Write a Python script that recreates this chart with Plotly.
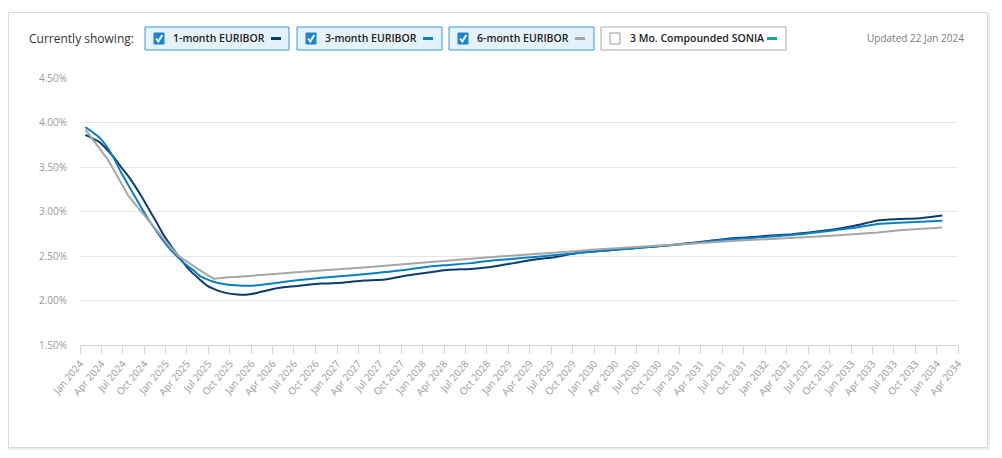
import plotly.graph_objects as go

# forward curve dates (monthly for the first two years, then quarterly)
dates = [
    "2024-01-24", "2024-02-24", "2024-03-24", "2024-04-24", "2024-05-24", "2024-06-24",
    "2024-07-24", "2024-08-24", "2024-09-24", "2024-10-24", "2024-11-24", "2024-12-24",
    "2025-01-24", "2025-02-24", "2025-03-24", "2025-04-24", "2025-05-24", "2025-06-24",
    "2025-07-24", "2025-08-24", "2025-09-24", "2025-10-24", "2025-11-24", "2025-12-24",
    "2026-01-24", "2026-04-24", "2026-07-24", "2026-10-24",
    "2027-01-24", "2027-04-24", "2027-07-24", "2027-10-24",
    "2028-01-24", "2028-04-24", "2028-07-24", "2028-10-24",
    "2029-01-24", "2029-04-24", "2029-07-24", "2029-10-24",
    "2030-01-24", "2030-04-24", "2030-07-24", "2030-10-24",
    "2031-01-24", "2031-04-24", "2031-07-24", "2031-10-24",
    "2032-01-24", "2032-04-24", "2032-07-24", "2032-10-24",
    "2033-01-24", "2033-04-24", "2033-07-24", "2033-10-24",
    "2034-01-24",
]

euribor_1m = [
    3.86, 3.82, 3.78, 3.70, 3.61, 3.50, 3.40, 3.28, 3.15, 3.01, 2.87, 2.73,
    2.61, 2.50, 2.40, 2.31, 2.24, 2.17, 2.13, 2.10, 2.08, 2.07, 2.064, 2.07,
    2.085, 2.14, 2.165, 2.19,
    2.20, 2.225, 2.235, 2.28,
    2.315, 2.345, 2.355, 2.38,
    2.42, 2.46, 2.49, 2.535,
    2.555, 2.575, 2.595, 2.615,
    2.64, 2.665, 2.695, 2.71,
    2.73, 2.745, 2.77, 2.80,
    2.845, 2.90, 2.915, 2.925,
    2.955,
]

euribor_3m = [
    3.95, 3.89, 3.83, 3.73, 3.60, 3.44, 3.30, 3.16, 3.02, 2.89, 2.77, 2.66,
    2.56, 2.48, 2.41, 2.35, 2.28, 2.24, 2.21, 2.19, 2.178, 2.17, 2.165, 2.165,
    2.17, 2.20, 2.23, 2.255,
    2.275, 2.295, 2.32, 2.345,
    2.38, 2.40, 2.42, 2.45,
    2.47, 2.49, 2.51, 2.535,
    2.555, 2.575, 2.595, 2.615,
    2.635, 2.66, 2.685, 2.70,
    2.72, 2.735, 2.76, 2.79,
    2.82, 2.86, 2.875, 2.885,
    2.895,
]

euribor_6m = [
    3.92, 3.81, 3.71, 3.60, 3.47, 3.32, 3.18, 3.08, 2.98, 2.88, 2.78, 2.68,
    2.59, 2.50, 2.45, 2.40, 2.35, 2.29, 2.245, 2.255, 2.26, 2.265, 2.27, 2.275,
    2.28, 2.30, 2.32, 2.335,
    2.35, 2.37, 2.39, 2.41,
    2.43, 2.455, 2.475, 2.49,
    2.505, 2.52, 2.54, 2.555,
    2.575, 2.59, 2.61, 2.625,
    2.64, 2.655, 2.67, 2.68,
    2.69, 2.70, 2.715, 2.73,
    2.745, 2.765, 2.79, 2.805,
    2.82,
]

legend_labels = ["1-month EURIBOR", "3-month EURIBOR", "6-month EURIBOR", "3 Mo. Compounded SONIA"]
updated_text = "Updated 22 Jan 2024"

C1 = "#0d3b6e"
C3 = "#0b7fc3"
C6 = "#a6a6a6"
CS = "#17a78e"

# the page body adds 8px, so the figure sits at (8, 8) on screen
OFF = 8
FIG_W, FIG_H = 1002 - 2 * OFF, 458 - 2 * OFF
# plot area in figure pixels
L, R, T, B = 80 - OFF, 958 - OFF, 78 - OFF, 345 - OFF
W, H = R - L, B - T


# helpers take screen pixels
def px(x):
    return (x - OFF - L) / W


def py(y):
    return (B - (y - OFF)) / H


fig = go.Figure()
fig.add_trace(go.Scatter(x=dates, y=euribor_1m, mode="lines", name=legend_labels[0],
                         line=dict(color=C1, width=2, shape="spline", smoothing=0.6)))
fig.add_trace(go.Scatter(x=dates, y=euribor_3m, mode="lines", name=legend_labels[1],
                         line=dict(color=C3, width=2, shape="spline", smoothing=0.6)))
fig.add_trace(go.Scatter(x=dates, y=euribor_6m, mode="lines", name=legend_labels[2],
                         line=dict(color=C6, width=2)))

shapes = []
annotations = []

# outer card
shapes.append(dict(type="rect", xref="paper", yref="paper", x0=px(9.5), x1=px(989), y0=py(13.5), y1=py(449),
                   line=dict(color="#eeeeee", width=2), layer="below"))
shapes.append(dict(type="rect", xref="paper", yref="paper", x0=px(8.5), x1=px(987.5), y0=py(12.5), y1=py(447.5),
                   line=dict(color="#d9d9d9", width=1), fillcolor="white", layer="below"))

annotations.append(dict(text="Currently showing:", xref="paper", yref="paper", x=px(27), y=py(38.5),
                        xanchor="left", yanchor="middle", showarrow=False,
                        font=dict(family="Open Sans", size=12, color="#333333")))

# custom legend buttons: (box x0, box x1, text x, swatch x0, colour, checked)
boxes = [
    (145, 289, 170, 271, C1, True),
    (297, 442, 322, 423, C3, True),
    (449, 594, 474, 575, C6, True),
    (601, 786, 627, 767, CS, False),
]
yc = 38.5
for (bx0, bx1, tx, sx, col, checked), label in zip(boxes, legend_labels):
    shapes.append(dict(type="rect", xref="paper", yref="paper", x0=px(bx0), x1=px(bx1), y0=py(27), y1=py(50),
                       line=dict(color="#3d9ad6" if checked else "#a9a9a9", width=1),
                       fillcolor="#e4f2fb" if checked else "white"))
    cx = bx0 + 9
    if checked:
        shapes.append(dict(type="rect", xref="paper", yref="paper", x0=px(cx), x1=px(cx + 10),
                           y0=py(yc - 5.5), y1=py(yc + 5.5), line=dict(color="#1a86cf", width=1),
                           fillcolor="#1a86cf"))
        path = "M %f,%f L %f,%f L %f,%f" % (px(cx + 2), py(yc), px(cx + 4.3), py(yc + 3),
                                            px(cx + 8.3), py(yc - 3.5))
        shapes.append(dict(type="path", xref="paper", yref="paper", path=path,
                           line=dict(color="white", width=2)))
    else:
        shapes.append(dict(type="rect", xref="paper", yref="paper", x0=px(cx), x1=px(cx + 10),
                           y0=py(yc - 5.5), y1=py(yc + 5.5), line=dict(color="#9a9a9a", width=1),
                           fillcolor="white"))
    annotations.append(dict(text=label, xref="paper", yref="paper", x=px(tx + 1), y=py(yc),
                            xanchor="left", yanchor="middle", showarrow=False,
                            font=dict(family="Open Sans", size=10.5, color="#222222", weight=600)))
    shapes.append(dict(type="line", xref="paper", yref="paper", x0=px(sx), x1=px(sx + 10),
                       y0=py(yc), y1=py(yc), line=dict(color=col, width=3)))

annotations.append(dict(text=updated_text, xref="paper", yref="paper", x=px(966), y=py(38.5),
                        xanchor="right", yanchor="middle", showarrow=False,
                        font=dict(family="Open Sans", size=10, color="#7a7a7a")))

fig.update_layout(
    width=FIG_W, height=FIG_H,
    margin=dict(l=L, r=FIG_W - R, t=T, b=FIG_H - B, autoexpand=False),
    paper_bgcolor="white", plot_bgcolor="white",
    showlegend=False,
    shapes=shapes, annotations=annotations,
    font=dict(family="Open Sans", color="#999999", size=10),
)
fig.update_xaxes(
    range=["2024-01-01", "2034-04-01"],
    tick0="2024-01-01", dtick="M3", tickformat="%b %Y", tickangle=-50,
    ticks="outside", ticklen=8, tickcolor="#ccd6eb",
    showline=True, linecolor="#ccd6eb", linewidth=1,
    showgrid=False, zeroline=False, automargin=False,
    tickfont=dict(size=10, color="#9a9a9a"),
)
fig.update_yaxes(
    range=[1.5, 4.5], dtick=0.5, tickformat=".2f", ticksuffix="%",
    showgrid=True, gridcolor="#e6e6e6", gridwidth=1,
    zeroline=False, showline=False, automargin=False,
    ticklabelstandoff=12,
    tickfont=dict(size=10, color="#9a9a9a"),
)

fig.write_html("out.html")
